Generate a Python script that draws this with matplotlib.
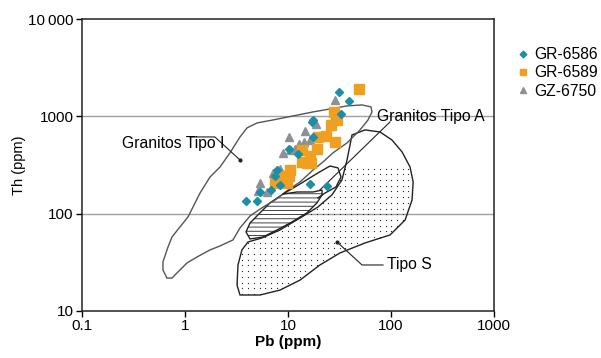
import numpy as np
import matplotlib.pyplot as plt
from matplotlib.patches import Polygon
from matplotlib.ticker import FixedLocator, NullLocator

plt.rcParams['font.family'] = ['Liberation Sans', 'DejaVu Sans']
plt.rcParams['hatch.linewidth'] = 0.6

# samples (Pb ppm, Th ppm)
gr6586_pb = [31.3, 39.1, 32.7, 17.5, 17.1, 17.5, 10.2, 12.5, 7.8, 7.5, 6.9, 8.4, 5.35, 3.95, 5.0, 16.4, 23.9]
gr6586_th = [1780, 1440, 1060, 920, 876, 614, 460, 411, 281, 244, 175, 197, 167, 135, 135, 202, 193]

gr6589_pb = [48.9, 28.0, 29.9, 26.1, 28.6, 23.5, 19.5, 13.7, 19.1, 16.4, 13.7, 15.4, 16.7, 10.5, 8.75, 10.2, 9.8, 7.5, 8.75]
gr6589_th = [1910, 1100, 918, 816, 546, 630, 614, 450, 462, 390, 340, 335, 332, 281, 244, 244, 205, 207, 222]

gz6750_pb = [28.6, 27.3, 18.9, 14.5, 10.2, 12.8, 14.3, 16.2, 9.0, 10.5, 11.8, 8.4, 7.1, 5.35, 5.1, 6.25, 7.8]
gz6750_th = [1460, 930, 825, 715, 614, 525, 540, 565, 421, 452, 460, 290, 262, 207, 172, 165, 222]

# field outlines (Pb, Th)
tipo_i_pb = [0.668, 0.611, 0.611, 0.684, 0.748, 0.893, 1.07, 1.40, 1.75, 2.19, 2.73, 3.42, 4.0, 5.0,
             7.15, 10.0, 17.5, 25.6, 37.4, 52.3, 63.9, 65.4, 59.8, 50.0, 37.4, 27.3, 21.9, 17.5, 13.1,
             10.0, 7.48, 5.59, 4.28, 3.42, 2.92, 2.19, 1.75, 1.31, 1.045, 0.855, 0.748]
tipo_i_th = [21.8, 26.4, 31.9, 45.5, 57.6, 73.0, 92.5, 163, 238, 302, 421, 614, 760, 855,
             918, 986, 1110, 1191, 1279, 1310, 1250, 1110, 918, 725, 533, 421, 340, 281, 212,
             175, 138, 115, 94.7, 71.3, 53.7, 46.6, 42.4, 35.9, 31.1, 25.2, 21.8]

tipo_s_pb = [41.8, 55.9, 78.2, 102, 128, 153, 164, 160, 137, 97.8, 55.9, 32.0, 20.4, 13.1, 8.36, 5.35,
             3.42, 3.20, 3.27, 3.57, 4.09, 5.59, 8.36, 13.1, 19.5, 26.7, 33.4, 37.4, 40.0]
tipo_s_th = [644, 725, 691, 572, 431, 302, 212, 138, 86.1, 60.4, 50.0, 39.5, 29.7, 20.8, 16.4, 14.6,
             14.6, 18.5, 29.7, 42.4, 51.2, 56.3, 68.0, 90.3, 117, 156, 222, 356, 508]

dots_pb = [35.8, 153, 164, 160, 137, 97.8, 55.9, 32.0, 20.4, 13.1, 8.36, 5.35, 3.42, 3.20, 3.27, 3.57,
           4.09, 5.59, 8.36, 13.1, 19.5, 26.7, 32.0]
dots_th = [295, 295, 212, 138, 86.1, 60.4, 50.0, 39.5, 29.7, 20.8, 16.4, 14.6, 14.6, 18.5, 29.7, 42.4,
           51.2, 56.3, 68.0, 90.3, 117, 167, 233]

hatch_pb = [3.91, 4.28, 5.35, 6.68, 8.94, 12.2, 17.5, 21.4, 21.4, 19.1, 15.3, 10.5, 7.82, 5.72, 4.28]
hatch_th = [64.9, 80.2, 102, 129, 159, 167, 167, 175, 156, 129, 102, 80.2, 68.0, 57.6, 55.0]

loop_pb = [8.94, 13.1, 19.5, 25.6, 30.6, 32.7, 29.2, 22.9, 19.5]
loop_th = [159, 202, 262, 309, 295, 238, 188, 163, 145]

fig = plt.figure(figsize=(6.01, 3.58), dpi=100)
ax = fig.add_axes([0.1364, 0.1313, 0.6856, 0.8156])
ax.set_xscale('log')
ax.set_yscale('log')
ax.set_xlim(0.1, 1000)
ax.set_ylim(10, 10000)

for yv in [100, 1000]:
    ax.axhline(yv, color='#a0a0a0', linewidth=1.0, zorder=1)

# dotted fill: regular grid of small dots clipped to the Tipo S area
dots_patch = Polygon(list(zip(dots_pb, dots_th)), closed=True, facecolor='none', edgecolor='none')
ax.add_patch(dots_patch)
gx, gy = np.meshgrid(np.arange(0.0, 1.0, 0.0139), np.arange(0.0, 1.0, 0.0195))
pts = ax.scatter(gx.ravel(), gy.ravel(), s=0.8, color='#222222', linewidths=0,
                 transform=ax.transAxes, zorder=2)
pts.set_clip_path(dots_patch)

ax.add_patch(Polygon(list(zip(hatch_pb, hatch_th)), closed=True, facecolor='white', edgecolor='#222222',
                     linewidth=1.0, hatch='----', zorder=3))
ax.add_patch(Polygon(list(zip(tipo_s_pb, tipo_s_th)), closed=True, facecolor='none', edgecolor='#222222',
                     linewidth=1.0, zorder=3))
ax.add_patch(Polygon(list(zip(tipo_i_pb, tipo_i_th)), closed=True, facecolor='none', edgecolor='#555555',
                     linewidth=1.0, zorder=3))
ax.plot(loop_pb, loop_th, color='#222222', linewidth=1.0, zorder=3)

# labels with leaders
ax.text(0.244, 520, 'Granitos Tipo I', fontsize=11.3, va='center', ha='left', zorder=5)
ax.plot([1.12, 1.95, 3.42], [614, 614, 356], color='#222222', linewidth=0.8, zorder=4)
ax.plot([3.42], [356], 'o', color='#222222', markersize=2, zorder=4)

ax.text(73.1, 986, 'Granitos Tipo A', fontsize=11.3, va='center', ha='left', zorder=5)
ax.plot([97.8, 20.4], [876, 175], color='#222222', linewidth=0.8, zorder=4)

ax.text(91.4, 29.7, 'Tipo S', fontsize=11.3, va='center', ha='left', zorder=5)
ax.plot([83.6, 52.3, 29.9], [29.7, 29.7, 51.2], color='#222222', linewidth=0.8, zorder=4)
ax.plot([29.9], [51.2], 'o', color='#222222', markersize=2, zorder=4)

ax.plot(gz6750_pb, gz6750_th, '^', color='#8c9196', markersize=6, linestyle='none', label='GZ-6750', zorder=6)
ax.plot(gr6589_pb, gr6589_th, 's', color='#f0a020', markersize=6.5, linestyle='none', label='GR-6589', zorder=7)
ax.plot(gr6586_pb, gr6586_th, 'D', color='#1b8ea8', markersize=4.5, linestyle='none', label='GR-6586', zorder=8)

ax.xaxis.set_major_locator(FixedLocator([0.1, 1, 10, 100, 1000]))
ax.xaxis.set_minor_locator(NullLocator())
ax.set_xticklabels(['0.1', '1', '10', '100', '1000'])
ax.yaxis.set_major_locator(FixedLocator([10, 100, 1000, 10000]))
ax.yaxis.set_minor_locator(NullLocator())
ax.set_yticklabels(['10', '100', '1000', '10\u2009000'])
ax.tick_params(direction='out', length=4, width=1, labelsize=11, pad=2)

for sp in ax.spines.values():
    sp.set_linewidth(1.1)
    sp.set_color('#222222')

ax.set_xlabel('Pb (ppm)', fontsize=11, fontweight='bold', labelpad=1)
ax.set_ylabel('Th (ppm)', fontsize=10.5)
ax.yaxis.set_label_coords(-0.135, 0.5)

handles, labels = ax.get_legend_handles_labels()
order = [2, 1, 0]
ax.legend([handles[i] for i in order], [labels[i] for i in order], loc='upper left',
          bbox_to_anchor=(0.85, 0.89), bbox_transform=fig.transFigure, frameon=False,
          fontsize=11.3, handlelength=0.6, handletextpad=0.4, labelspacing=0.2, borderpad=0,
          markerscale=0.75)

fig.savefig('out.png', dpi=100)
